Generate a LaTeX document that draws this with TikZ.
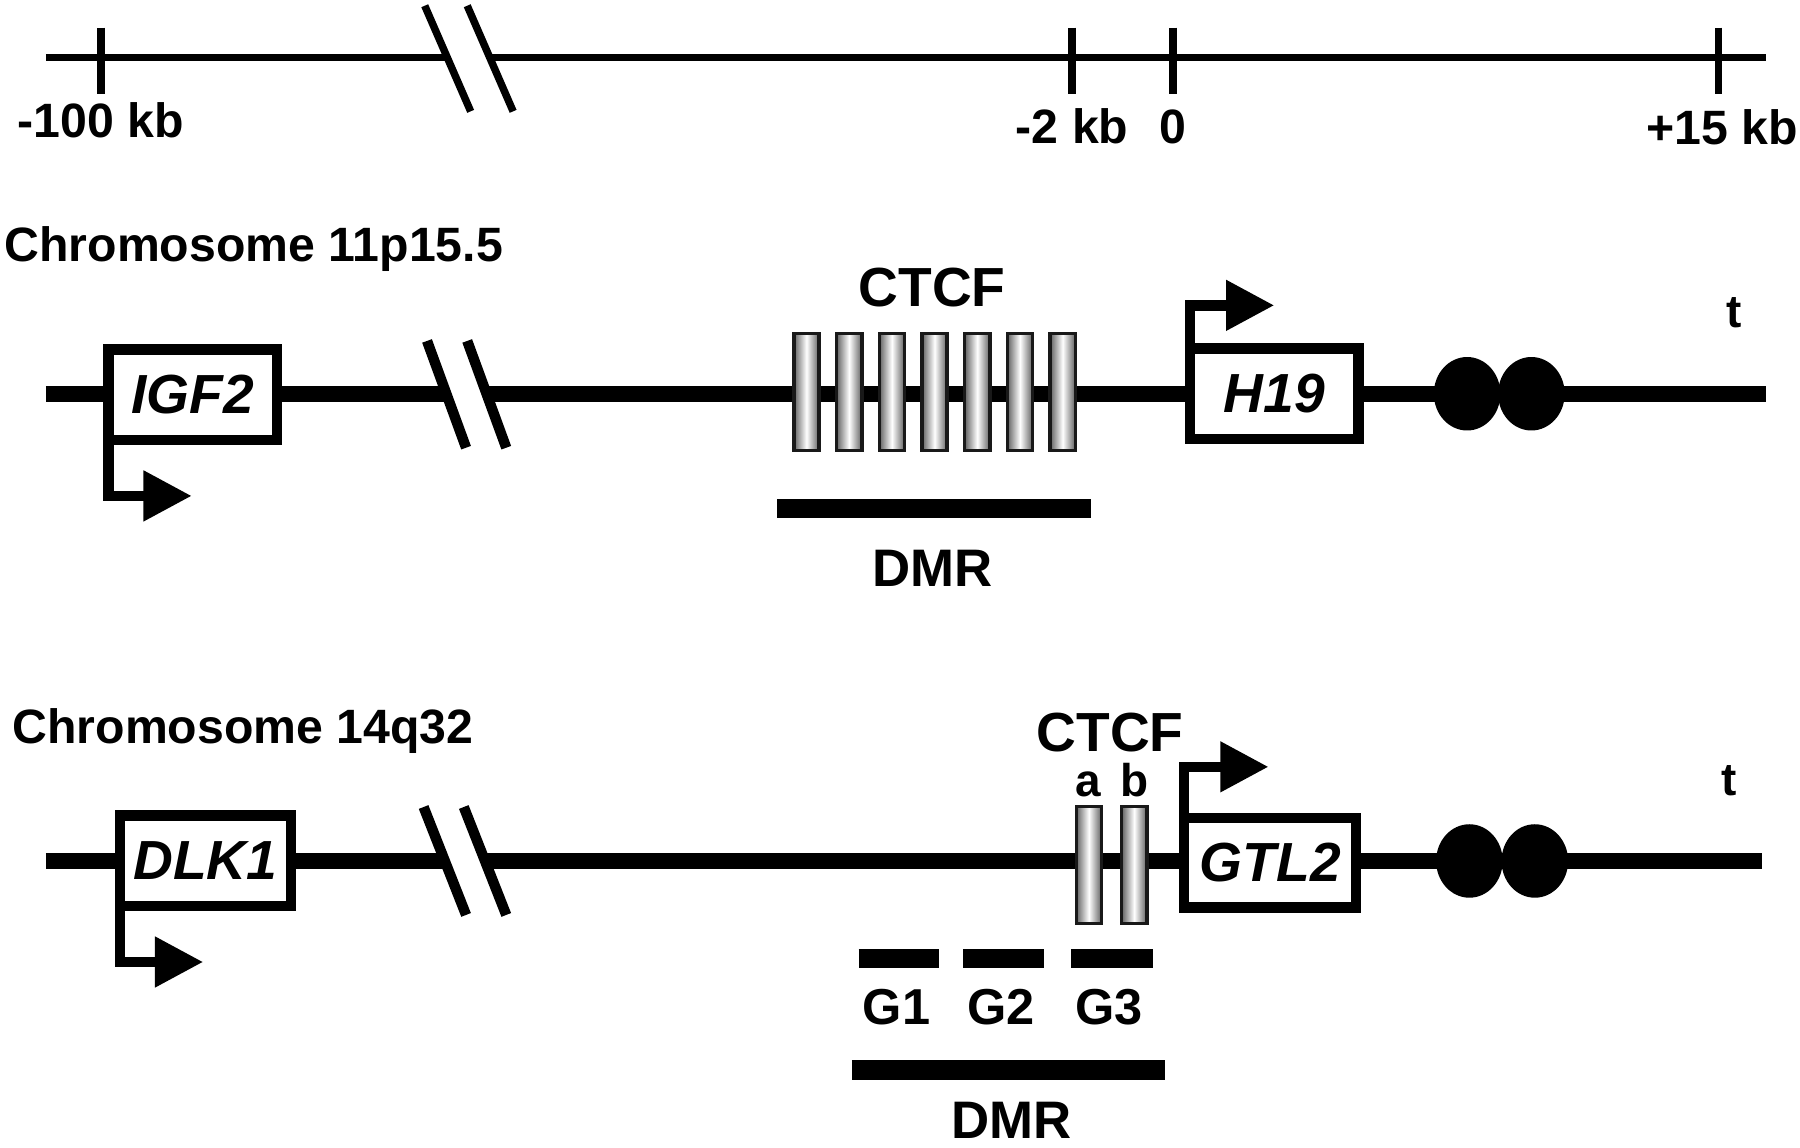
\documentclass[tikz,border=0pt]{standalone}
\usepackage{fontspec}
\setmainfont{Liberation Sans}
\usetikzlibrary{arrows.meta,shapes.geometric}
\begin{document}
\begin{tikzpicture}[x=1pt,y=-1pt,
  every node/.style={inner sep=0pt, outer sep=0pt},
  labA/.style={font=\fontsize{42}{50}\selectfont\bfseries, text height=30pt, text depth=0pt},
  labB/.style={font=\fontsize{48}{56}\selectfont\bfseries, text height=34.5pt, text depth=0pt},
  labD/.style={font=\fontsize{46}{54}\selectfont\bfseries, text height=33pt, text depth=0pt},
  labG/.style={font=\fontsize{44}{52}\selectfont\bfseries, text height=31.5pt, text depth=0pt},
  labS/.style={font=\fontsize{40}{48}\selectfont\bfseries, anchor=base},
  genebox/.style={draw, line width=9pt, fill=white, minimum height=79pt,
    font=\fontsize{48}{56}\selectfont\bfseries\itshape},
  chromline/.style={line width=14pt},
  scaleline/.style={line width=6.5pt},
  brkmark/.style={line width=9pt},
  prom/.style={line width=9pt, line join=miter, -{Triangle[length=42pt,width=42pt]}},
  ctcfbox/.style={draw=black!90, line width=3pt, minimum width=22pt, minimum height=102pt,
    left color=black!62, right color=black!62, middle color=white},
  dmrbar/.style={line width=17pt},
  spot/.style={ellipse, fill=black, minimum width=58pt, minimum height=64pt},
]
\useasboundingbox (0,0) rectangle (1568,1000);

% ---------- scale bar ----------
\coordinate (sL) at (40,50);
\coordinate (sB1) at (389.6,50);
\coordinate (sB2) at (426.6,50);
\coordinate (sR) at (1538,50);
\draw[scaleline] (sL) -- (sB1);
\draw[scaleline] (sB2) -- (sR);
\draw[scaleline] (370,5) -- (410,97);
\draw[scaleline] (407,5) -- (447,97);
\foreach \x in {88,934,1022,1497} \draw[scaleline] (\x,24) -- (\x,82);
\node[labA] (k100) at (88,105) {-100 kb};
\node[labA] (k2) at (934,110) {-2 kb};
\node[labA] (k0) at (1022,110) {0};
\node[labA] (k15) at (1500,111) {+15 kb};

% ---------- chromosome 11p15.5 ----------
\node[labA, anchor=west] (chr11) at (4,213) {Chromosome 11p15.5};
\draw[chromline] (40,343) -- (389,343);
\draw[chromline] (424,343) -- (1538,343);
\draw[brkmark] (372,297) -- (406,390);
\draw[brkmark] (407,297) -- (441,390);

\foreach \i in {0,...,6}
  \node[ctcfbox] (c11\i) at ({702.5+37.2*\i},341.5) {};
\node[labB] (ctcf11) at (812,250) {CTCF};

\node[genebox, minimum width=147pt] (igf2) at (168,344) {IGF2};
\node[genebox, minimum width=147pt] (h19) at (1110,343) {H19};
\coordinate (igf2tip) at (167,432);
\coordinate (h19tip) at (1110,266);
\draw[prom] (igf2.south west) |- (igf2tip);
\draw[prom] (h19.north west) |- (h19tip);

\node[spot] (s11a) at (1278,343) {};
\node[spot] (s11b) at (1334,343) {};
\node[labS] (t11) at (1511,285) {t};

\coordinate (d11a) at (677,443);
\coordinate (d11b) at (950,443);
\draw[dmrbar] (d11a) -- (d11b);
\node[labD] (dmr11) at (812,494) {DMR};

% ---------- chromosome 14q32 ----------
\node[labA, anchor=west] (chr14) at (11,633) {Chromosome 14q32};
\draw[chromline] (40,750) -- (387,750);
\draw[chromline] (422,750) -- (1535,750);
\draw[brkmark] (369,703) -- (406,797);
\draw[brkmark] (404,703) -- (441,797);

\node[ctcfbox] (c14a) at (948.5,753.5) {};
\node[ctcfbox] (c14b) at (988,753.5) {};
\node[labB] (ctcf14) at (967,637) {CTCF};
\node[labS] (la) at (948,694) {a};
\node[labS] (lb) at (988,694) {b};

\node[genebox, minimum width=149pt] (dlk1) at (179,750) {DLK1};
\node[genebox, minimum width=150pt, minimum height=78pt] (gtl2) at (1106.5,751.5) {GTL2};
\coordinate (dlk1tip) at (177,838);
\coordinate (gtl2tip) at (1105,668);
\draw[prom] (dlk1.south west) |- (dlk1tip);
\draw[prom] (gtl2.north west) |- (gtl2tip);

\node[spot] (s14a) at (1280,750) {};
\node[spot] (s14b) at (1337,750) {};
\node[labS] (t14) at (1506,693) {t};

\coordinate (g1a) at (748,835); \coordinate (g1b) at (818,835);
\coordinate (g2a) at (839,835); \coordinate (g2b) at (909,835);
\coordinate (g3a) at (933,835); \coordinate (g3b) at (1004,835);
\draw[dmrbar] (g1a) -- (g1b);
\draw[dmrbar] (g2a) -- (g2b);
\draw[dmrbar] (g3a) -- (g3b);
\node[labG] (G1) at (781,877) {G1};
\node[labG] (G2) at (872,877) {G2};
\node[labG] (G3) at (966,877) {G3};

\coordinate (d14a) at (742,932);
\coordinate (d14b) at (1015,932);
\draw[dmrbar] (d14a) -- (d14b);
\node[labD] (dmr14) at (881,975) {DMR};
\end{tikzpicture}
\end{document}
